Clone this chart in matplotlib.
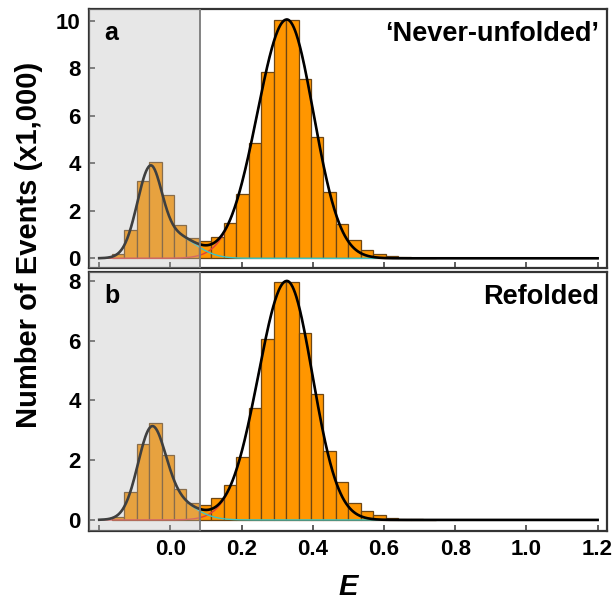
import numpy as np
import matplotlib
matplotlib.use("Agg")
import matplotlib.pyplot as plt

plt.rcParams["font.family"] = ["Liberation Sans", "DejaVu Sans"]
plt.rcParams["font.weight"] = "bold"

# ------------------------------------------------------------
# Histogram data (counts in thousands), bins of width 0.035 starting at -0.165
# ------------------------------------------------------------
bin_start = -0.165
bin_width = 0.035

counts_a = [0.18, 1.19, 3.25, 4.07, 2.65, 1.40, 0.87, 0.73, 0.91, 1.49,
            2.71, 4.87, 7.83, 10.03, 10.03, 7.56, 5.10, 2.80, 1.44, 0.77,
            0.35, 0.17, 0.10, 0.06, 0.03, 0.02]
counts_b = [0.10, 0.95, 2.55, 3.25, 2.18, 1.03, 0.58, 0.51, 0.73, 1.16,
            2.09, 3.76, 6.05, 7.97, 7.97, 6.25, 4.20, 2.31, 1.26, 0.56,
            0.30, 0.16, 0.08, 0.04, 0.02, 0.01]

# fit parameters
# low-E peak: core (amp, centre, sigma_left, sigma_right) + tail (amp, centre, sigma)
low_core_a = [3.30, -0.058, 0.036, 0.032]
low_tail_a = [1.00, 0.005, 0.062]
low_core_b = [2.65, -0.054, 0.038, 0.038]
low_tail_b = [0.70, 0.000, 0.062]
# high-E peak: (amp, centre, sigma_left, sigma_right)
high_a = [10.05, 0.327, 0.083, 0.075]
high_b = [8.00, 0.327, 0.080, 0.072]

panel_letters = ["a", "b"]
panel_titles = ["\u2018Never-unfolded\u2019", "Refolded"]
cutoff = 0.082

xticks = [-0.2, 0.0, 0.2, 0.4, 0.6, 0.8, 1.0, 1.2]
xticklabels = ["", "0.0", "0.2", "0.4", "0.6", "0.8", "1.0", "1.2"]
yticks_a = [0, 2, 4, 6, 8, 10]
yticks_b = [0, 2, 4, 6, 8]


def split_gauss(x, amp, c, sl, sr):
    s = np.where(x < c, sl, sr)
    return amp * np.exp(-(x - c) ** 2 / (2 * s ** 2))


def gauss(x, amp, c, s):
    return amp * np.exp(-(x - c) ** 2 / (2 * s ** 2))


fig = plt.figure(figsize=(6.13, 6.01), dpi=100)
ax_a = fig.add_axes([0.145, 0.554, 0.845, 0.431])
ax_b = fig.add_axes([0.145, 0.1165, 0.845, 0.431])

panels = [
    (ax_a, counts_a, low_core_a, low_tail_a, high_a, yticks_a, (-0.41, 10.49)),
    (ax_b, counts_b, low_core_b, low_tail_b, high_b, yticks_b, (-0.37, 8.30)),
]

xs = np.linspace(-0.2, 1.2, 800)

for i, (ax, counts, lc, lt, hp, yt, ylim) in enumerate(panels):
    lefts = bin_start + bin_width * np.arange(len(counts))
    ax.bar(lefts, counts, width=bin_width, align="edge", color="#ff9600",
           edgecolor="#6e4613", linewidth=0.9, zorder=2)

    low = split_gauss(xs, *lc) + gauss(xs, *lt)
    high = split_gauss(xs, *hp)
    ax.plot(xs, high, color="#e0403a", lw=1.0, zorder=3)
    ax.plot(xs, low, color="#3cc4c4", lw=1.0, zorder=3)
    ax.plot(xs, low + high, color="black", lw=1.9, zorder=4)

    ax.set_xlim(-0.229, 1.226)
    ax.set_ylim(*ylim)
    ax.axvspan(-0.3, cutoff, color="#bbbbbb", alpha=0.34, lw=0, zorder=5)
    ax.axvline(cutoff, color="#7a7a7a", lw=1.3, zorder=6)

    ax.set_yticks(yt)
    ax.set_xticks(xticks)
    if i == 0:
        ax.set_xticklabels([])
    else:
        ax.set_xticklabels(xticklabels)
    ax.tick_params(direction="in", length=4, width=1.1, color="#333333",
                   labelsize=16, pad=6, top=False, right=False)
    for sp in ax.spines.values():
        sp.set_color("#333333")
        sp.set_linewidth(1.6)

    ax.text(0.03, 0.955, panel_letters[i], transform=ax.transAxes,
            fontsize=18, fontweight="bold", ha="left", va="top", zorder=7)
    ax.text(0.985, 0.955, panel_titles[i], transform=ax.transAxes,
            fontsize=19.5, fontweight="bold", ha="right", va="top", zorder=7)

ax_b.set_xlabel("E", fontsize=21, fontweight="bold", style="italic", labelpad=9)
fig.text(0.047, 0.592, "Number of Events (x1,000)", rotation=90,
         fontsize=21, fontweight="bold", ha="center", va="center")

fig.savefig("out.png", dpi=100)
